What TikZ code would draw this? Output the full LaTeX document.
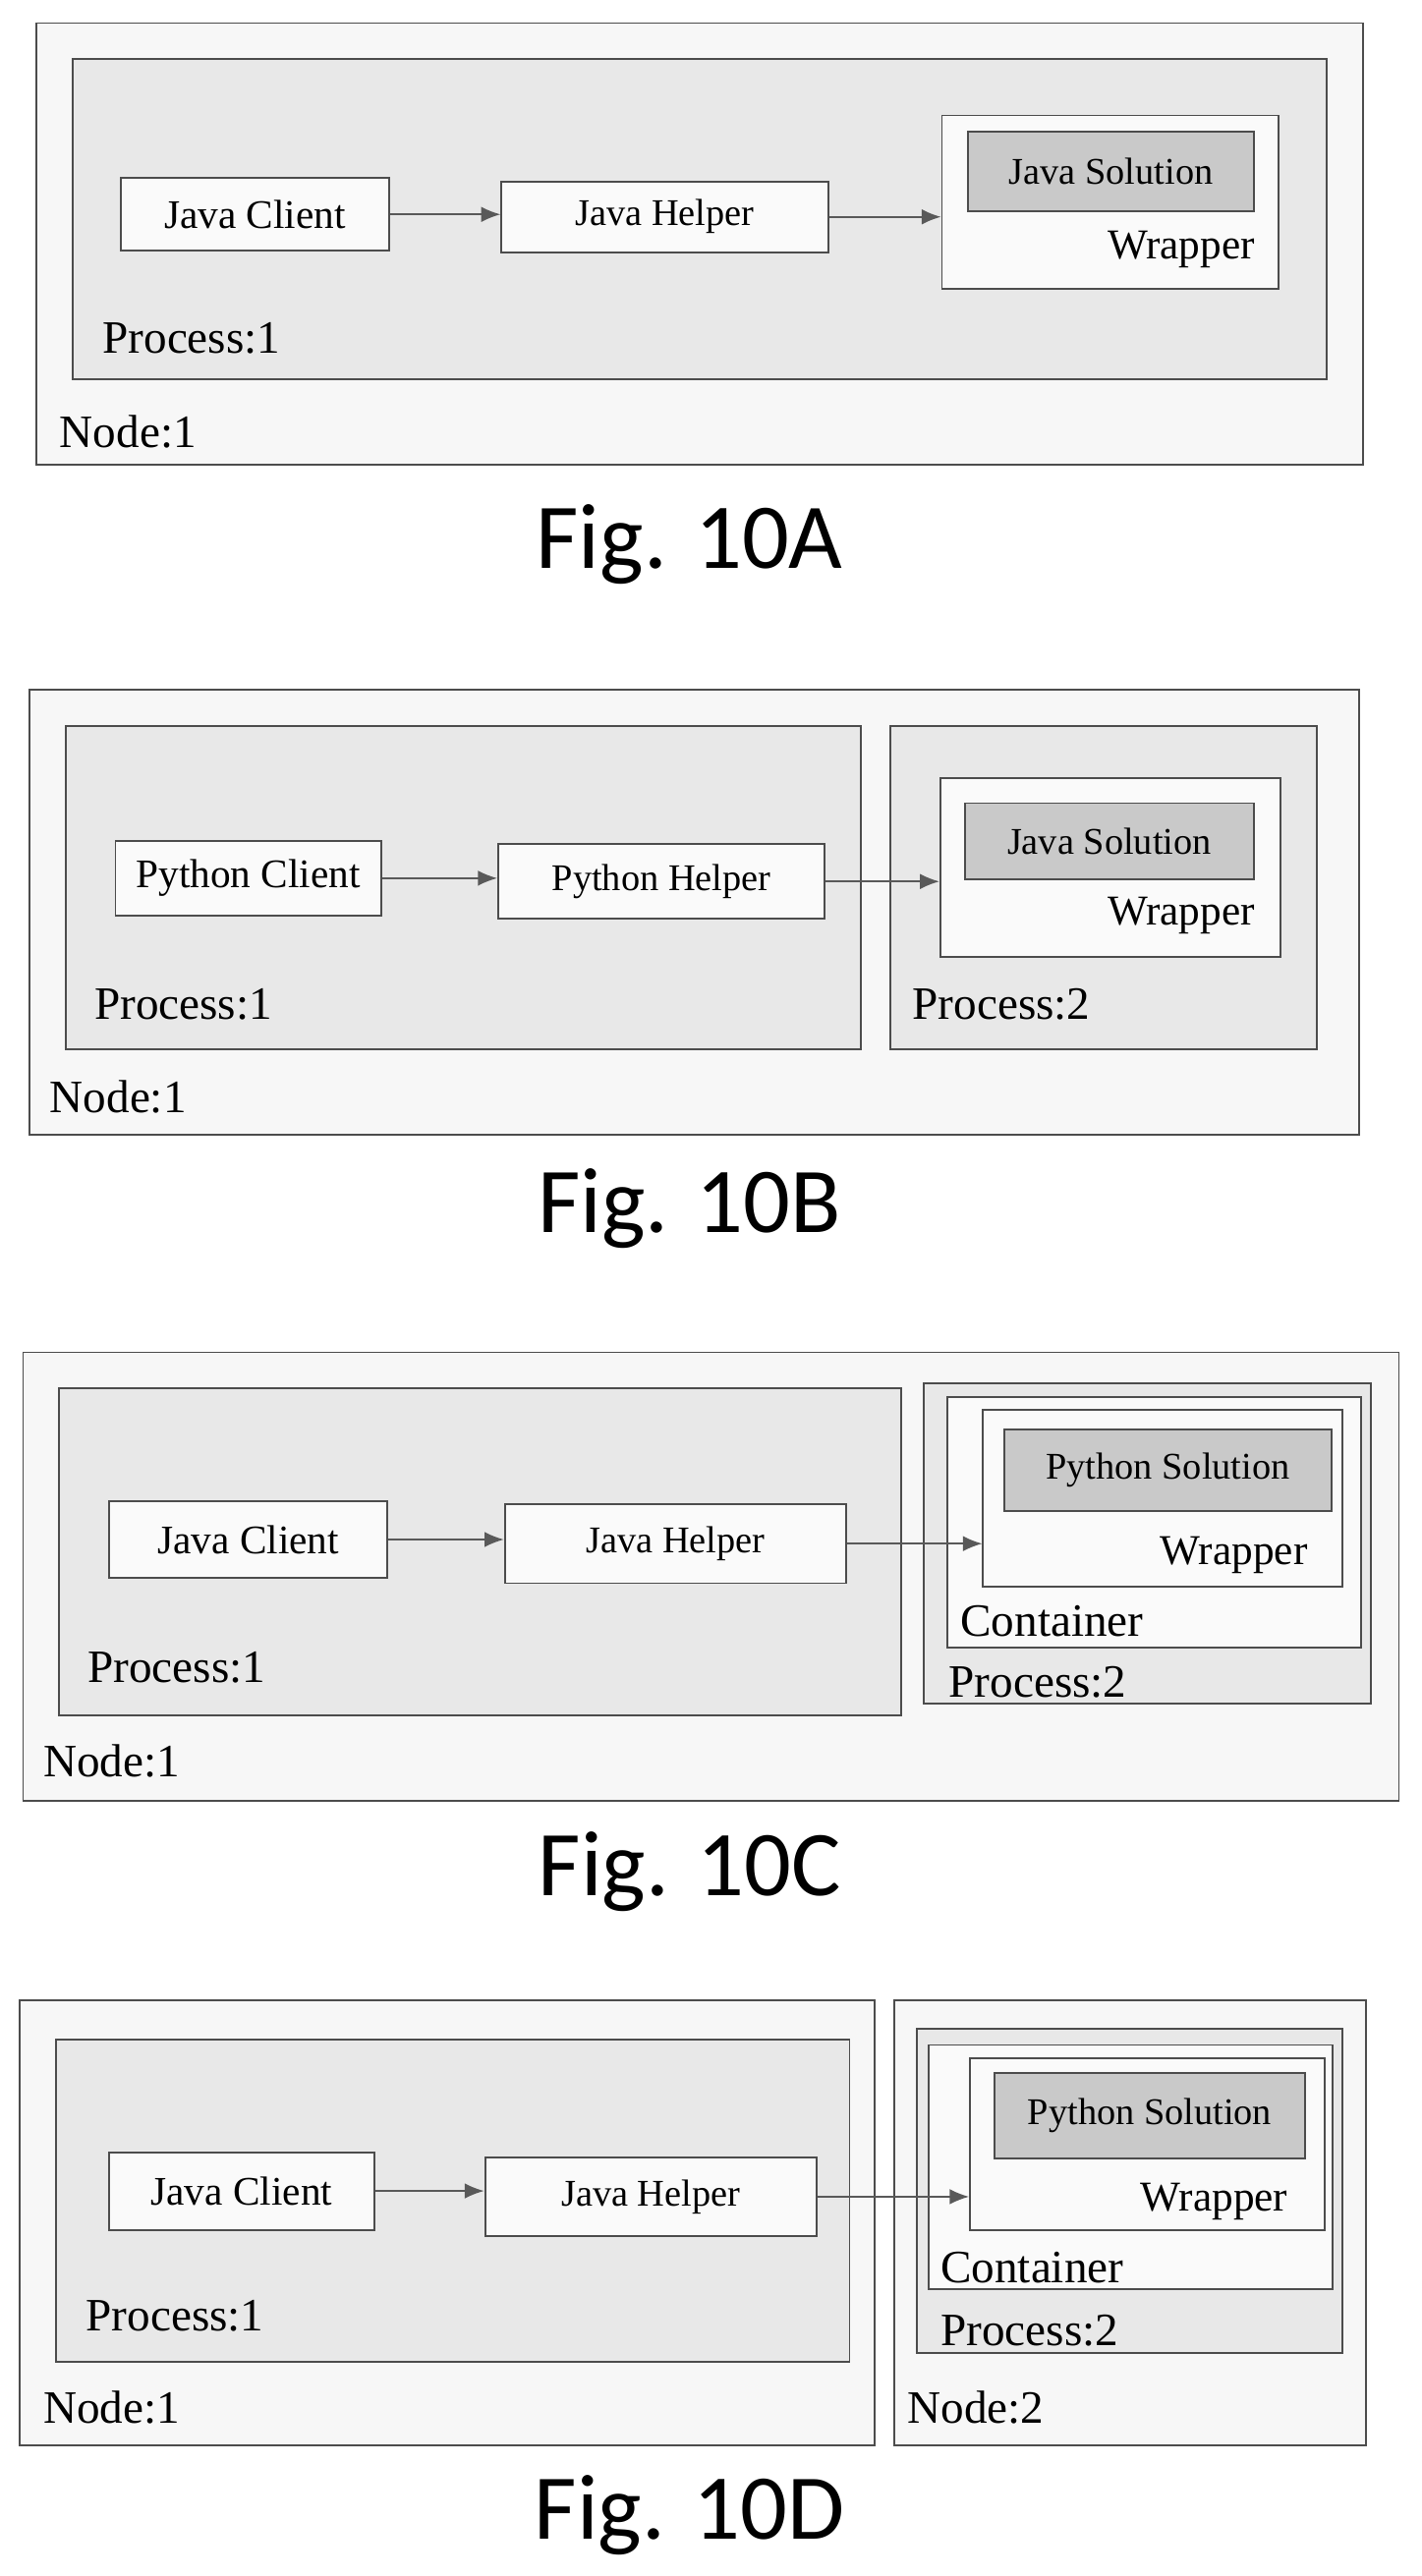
\documentclass[tikz,border=0pt]{standalone}
\usepackage{fontspec}
\setmainfont{Liberation Serif}
\newfontfamily\capfont{Carlito}
\usetikzlibrary{fit,arrows.meta}

\tikzset{
  frame/.style={draw=black!70, line width=1pt, inner sep=0pt},
  hostbox/.style={frame, fill=gray!6},
  procbox/.style={frame, fill=gray!18},
  wrapbox/.style={frame, fill=gray!4},
  solbox/.style={frame, fill=gray!42},
  compbox/.style={frame, fill=gray!4},
  bigt/.style={font=\fontsize{21}{23}\selectfont},
  smallt/.style={font=\fontsize{19.5}{22}\selectfont},
  lbl/.style={anchor=west, inner sep=0pt, font=\fontsize{24}{26}\selectfont},
  wlbl/.style={inner sep=0pt, font=\fontsize{22}{24}\selectfont},
  figcap/.style={font=\capfont\fontsize{48}{52}\selectfont},
  call/.style={draw=black!65, line width=0.8pt, -{Latex[length=10pt,width=8pt]}}
}

\begin{document}
\begin{tikzpicture}[x=0.03cm,y=0.03cm]
    \useasboundingbox (0,0) rectangle (862,-1562);

    % Fig. 10A
    \node[hostbox, fit={(22,-14) (826,-282)}] (nodeA1) {};
    \node[procbox, fit={(44,-36) (804,-230)}] (procA1) {};
    \node[compbox, fit={(73,-108) (236,-152)}, label={[bigt]center:Java Client}] (clientA) {};
    \node[compbox, fit={(304,-110) (502,-153)}, label={[smallt]center:Java Helper}] (helperA) {};
    \node[wrapbox, fit={(571,-70) (775,-175)}] (wrapA) {};
    \node[solbox, fit={(587,-80) (760,-128)}, label={[smallt]center:Java Solution}] (solA) {};
    \node[wlbl] (wrapA-t) at (716,-151) {Wrapper};
    \node[lbl] (procA1-t) at (62,-205) {Process:1};
    \node[lbl] (nodeA1-t) at (36,-262) {Node:1};
    \node[figcap] (capA) at (418,-330) {Fig. 10A};
    \draw[call] (clientA.east) -- (helperA.west |- clientA.east);
    \draw[call] (helperA.east) -- (wrapA.west |- helperA.east);

    % Fig. 10B
    \node[hostbox, fit={(18,-418) (824,-688)}] (nodeB1) {};
    \node[procbox, fit={(40,-440) (522,-636)}] (procB1) {};
    \node[procbox, fit={(540,-440) (798,-636)}] (procB2) {};
    \node[compbox, fit={(70,-510) (231,-555)}, label={[bigt]center:Python Client}] (clientB) {};
    \node[compbox, fit={(302,-512) (500,-557)}, label={[smallt]center:Python Helper}] (helperB) {};
    \node[wrapbox, fit={(570,-472) (776,-580)}] (wrapB) {};
    \node[solbox, fit={(585,-487) (760,-533)}, label={[smallt]center:Java Solution}] (solB) {};
    \node[wlbl] (wrapB-t) at (716,-555) {Wrapper};
    \node[lbl] (procB1-t) at (57,-609) {Process:1};
    \node[lbl] (procB2-t) at (553,-609) {Process:2};
    \node[lbl] (nodeB1-t) at (30,-665) {Node:1};
    \node[figcap] (capB) at (418,-733) {Fig. 10B};
    \draw[call] (clientB.east) -- (helperB.west |- clientB.east);
    \draw[call] (helperB.east) -- (wrapB.west |- helperB.east);

    % Fig. 10C
    \node[hostbox, fit={(14,-820) (848,-1092)}] (nodeC1) {};
    \node[procbox, fit={(36,-842) (546,-1040)}] (procC1) {};
    \node[procbox, fit={(560,-839) (831,-1033)}] (procC2) {};
    \node[wrapbox, fit={(574,-847) (825,-999)}] (contC) {};
    \node[wrapbox, fit={(596,-855) (814,-962)}] (wrapC) {};
    \node[solbox, fit={(609,-867) (807,-916)}, label={[smallt]center:Python Solution}] (solC) {};
    \node[compbox, fit={(66,-910) (235,-957)}, label={[bigt]center:Java Client}] (clientC) {};
    \node[compbox, fit={(306,-912) (513,-960)}, label={[smallt]center:Java Helper}] (helperC) {};
    \node[wlbl] (wrapC-t) at (748,-943) {Wrapper};
    \node[lbl] (contC-t) at (582,-983) {Container};
    \node[lbl] (procC2-t) at (575,-1020) {Process:2};
    \node[lbl] (procC1-t) at (53,-1011) {Process:1};
    \node[lbl] (nodeC1-t) at (26,-1068) {Node:1};
    \node[figcap] (capC) at (418,-1135) {Fig. 10C};
    \draw[call] (clientC.east) -- (helperC.west |- clientC.east);
    \draw[call] (helperC.east) -- (wrapC.west |- helperC.east);

    % Fig. 10D
    \node[hostbox, fit={(12,-1213) (530,-1483)}] (nodeD1) {};
    \node[hostbox, fit={(542,-1213) (828,-1483)}] (nodeD2) {};
    \node[procbox, fit={(34,-1237) (515,-1432)}] (procD1) {};
    \node[procbox, fit={(556,-1230) (814,-1427)}] (procD2) {};
    \node[wrapbox, fit={(563,-1240) (808,-1388)}] (contD) {};
    \node[wrapbox, fit={(588,-1248) (803,-1352)}] (wrapD) {};
    \node[solbox, fit={(603,-1257) (791,-1309)}, label={[smallt]center:Python Solution}] (solD) {};
    \node[compbox, fit={(66,-1305) (227,-1352)}, label={[bigt]center:Java Client}] (clientD) {};
    \node[compbox, fit={(294,-1308) (495,-1356)}, label={[smallt]center:Java Helper}] (helperD) {};
    \node[wlbl] (wrapD-t) at (736,-1335) {Wrapper};
    \node[lbl] (contD-t) at (570,-1375) {Container};
    \node[lbl] (procD2-t) at (570,-1413) {Process:2};
    \node[lbl] (procD1-t) at (52,-1404) {Process:1};
    \node[lbl] (nodeD1-t) at (26,-1460) {Node:1};
    \node[lbl] (nodeD2-t) at (550,-1460) {Node:2};
    \node[figcap] (capD) at (418,-1525) {Fig. 10D};
    \draw[call] (clientD.east) -- (helperD.west |- clientD.east);
    \draw[call] (helperD.east) -- (wrapD.west |- helperD.east);
\end{tikzpicture}
\end{document}
